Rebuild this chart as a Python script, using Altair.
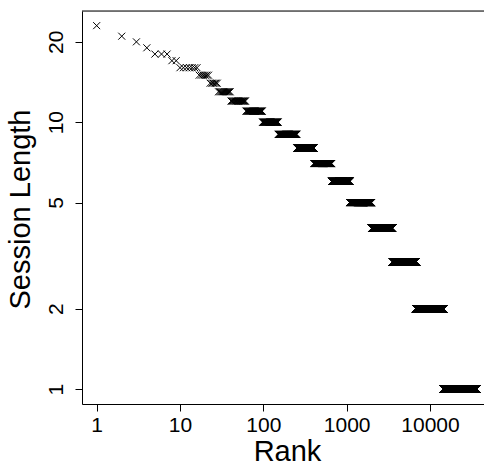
import altair as alt
import numpy as np
import pandas as pd

# Session lengths (descending) and how many sessions have each length
session_lengths = [23, 21, 20, 19, 18, 17, 16, 15, 14, 13, 12, 11, 10, 9, 8, 7, 6, 5, 4, 3, 2, 1]
session_counts = [1, 1, 1, 1, 3, 2, 7, 6, 6, 12, 21, 36, 53, 102, 153, 255, 430, 900, 1560, 3250, 7700, 21500]

x_ticks = [1, 10, 100, 1000, 10000]
y_ticks = [1, 2, 5, 10, 20]

lengths = np.repeat(session_lengths, session_counts)
df = pd.DataFrame({"rank": np.arange(1, len(lengths) + 1), "length": lengths})

W, H = 402, 393
FONT = "Liberation Sans"

points = alt.Chart(df).mark_point(
    shape="M-1,-1L1,1M-1,1L1,-1",
    filled=False,
    color="black",
    size=49,
    strokeWidth=1,
    opacity=1,
).encode(
    x=alt.X(
        "rank:Q",
        scale=alt.Scale(type="log", domain=[0.667, 44460], nice=False),
        axis=alt.Axis(
            values=x_ticks, format="d", title="Rank", grid=False,
            tickSize=7, tickColor="black", domainColor="black",
            labelFontSize=21, labelFont=FONT, labelColor="black",
            labelBaseline="alphabetic", labelPadding=20, labelFlush=False,
            titleFontSize=29, titleFont=FONT, titleFontWeight="normal", titleColor="black",
            titleX=205, titleY=56, titleBaseline="alphabetic", titleAlign="center",
        ),
    ),
    y=alt.Y(
        "length:Q",
        scale=alt.Scale(type="log", domain=[0.879, 26.1], nice=False),
        axis=alt.Axis(
            values=y_ticks, format="d", title="Session Length", grid=False,
            tickSize=7, tickColor="black", domainColor="black",
            labelFontSize=21, labelFont=FONT, labelColor="black",
            labelAngle=270, labelAlign="center", labelBaseline="alphabetic",
            labelPadding=13, labelFlush=False,
            titleFontSize=29, titleFont=FONT, titleFontWeight="normal", titleColor="black",
            titleAngle=270, titleX=-53, titleY=198, titleBaseline="alphabetic", titleAlign="center",
        ),
    ),
)

top_border = alt.Chart(pd.DataFrame({"a": [0]})).mark_rule(color="black", strokeWidth=1).encode(
    x=alt.value(0), x2=alt.value(W), y=alt.value(0)
)

chart = alt.layer(points, top_border).properties(
    width=W, height=H,
    autosize=alt.AutoSizeParams(type="none"),
    padding={"left": 82, "top": 11, "right": 0, "bottom": 60},
).configure_view(stroke=None).configure(background="white")

chart.save("out.html", embed_options={"renderer": "svg", "actions": False})
